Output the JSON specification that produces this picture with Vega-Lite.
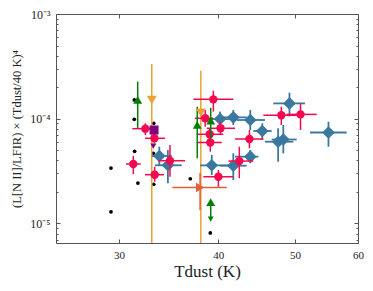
{
  "$schema": "https://vega.github.io/schema/vega-lite/v6.json",
  "width": 302,
  "height": 229,
  "autosize": {"type": "none"},
  "padding": {"left": 56, "top": 14, "right": 15, "bottom": 48},
  "background": "white",
  "config": {
    "view": {"stroke": "#555", "strokeWidth": 1},
    "font": "Liberation Serif",
    "axis": {"grid": false, "domain": false, "labelFont": "Liberation Serif", "titleFont": "Liberation Serif", "titleFontWeight": "normal", "labelColor": "#222", "titleColor": "#222", "tickColor": "#555", "tickWidth": 1, "labelFlush": false, "labelOverlap": false}
  },
  "datasets": {
    "black": [
      {"T": 29.32, "V": 1.29e-5}, {"T": 29.32, "V": 3.38e-5}, {"T": 31.37, "V": 1.51e-4}, {"T": 31.37, "V": 9.87e-5},
      {"T": 31.4, "V": 4.88e-5}, {"T": 31.7, "V": 2.43e-5}, {"T": 33.19, "V": 9.04e-5}, {"T": 33.19, "V": 2.36e-5},
      {"T": 33.15, "V": 4.67e-5}, {"T": 36.9, "V": 2.67e-5}, {"T": 39.1, "V": 8.1e-6}
    ],
    "red": [
      {"T": 31.28, "V": 3.69e-5, "Tlo": 30.62, "Thi": 31.96, "Vlo": 2.96e-5, "Vhi": 4.40e-5},
      {"T": 32.39, "V": 8.03e-5, "Tlo": 31.19, "Thi": 33.15, "Vlo": 6.99e-5, "Vhi": 9.04e-5},
      {"T": 33.25, "V": 6.50e-5, "Tlo": 32.36, "Thi": 34.29, "Vlo": 5.82e-5, "Vhi": 7.25e-5},
      {"T": 33.28, "V": 2.92e-5, "Tlo": 32.36, "Thi": 34.19, "Vlo": 2.50e-5, "Vhi": 3.48e-5},
      {"T": 34.79, "V": 3.97e-5, "Tlo": 33.63, "Thi": 36.34, "Vlo": 2.79e-5, "Vhi": 5.61e-5},
      {"T": 39.45, "V": 1.53e-4, "Tlo": 37.23, "Thi": 41.80, "Vlo": 1.17e-4, "Vhi": 1.85e-4},
      {"T": 38.53, "V": 1.01e-4, "Tlo": 37.41, "Thi": 39.42, "Vlo": 8.39e-5, "Vhi": 1.21e-4},
      {"T": 39.03, "V": 7.10e-5, "Tlo": 37.60, "Thi": 40.61, "Vlo": 6.26e-5, "Vhi": 8.15e-5},
      {"T": 39.10, "V": 5.93e-5, "Tlo": 37.60, "Thi": 40.42, "Vlo": 4.84e-5, "Vhi": 6.73e-5},
      {"T": 40.28, "V": 8.10e-5, "Tlo": 38.70, "Thi": 42.01, "Vlo": 6.99e-5, "Vhi": 9.36e-5},
      {"T": 40.03, "V": 2.79e-5, "Tlo": 38.32, "Thi": 41.80, "Vlo": 2.24e-5, "Vhi": 3.24e-5},
      {"T": 42.53, "V": 3.94e-5, "Tlo": 41.21, "Thi": 44.29, "Vlo": 2.70e-5, "Vhi": 5.40e-5},
      {"T": 43.80, "V": 6.40e-5, "Tlo": 42.01, "Thi": 45.60, "Vlo": 5.22e-5, "Vhi": 7.80e-5},
      {"T": 48.04, "V": 1.08e-4, "Tlo": 45.60, "Thi": 50.71, "Vlo": 8.71e-5, "Vhi": 1.30e-4},
      {"T": 50.79, "V": 1.10e-4, "Tlo": 48.79, "Thi": 53.23, "Vlo": 7.80e-5, "Vhi": 1.40e-4}
    ],
    "blue": [
      {"T": 33.73, "V": 4.40e-5, "Tlo": 33.00, "Thi": 34.97, "Vlo": 3.61e-5, "Vhi": 5.40e-5},
      {"T": 34.58, "V": 3.59e-5, "Tlo": 33.31, "Thi": 35.99, "Vlo": 2.42e-5, "Vhi": 5.02e-5},
      {"T": 39.27, "V": 3.59e-5, "Tlo": 37.96, "Thi": 41.65, "Vlo": 2.90e-5, "Vhi": 4.50e-5},
      {"T": 40.23, "V": 9.93e-5, "Tlo": 38.70, "Thi": 41.80, "Vlo": 8.10e-5, "Vhi": 1.17e-4},
      {"T": 41.80, "V": 1.03e-4, "Tlo": 40.03, "Thi": 43.45, "Vlo": 8.71e-5, "Vhi": 1.21e-4},
      {"T": 43.91, "V": 9.72e-5, "Tlo": 42.22, "Thi": 45.82, "Vlo": 7.80e-5, "Vhi": 1.21e-4},
      {"T": 45.46, "V": 7.63e-5, "Tlo": 44.29, "Thi": 46.72, "Vlo": 6.26e-5, "Vhi": 9.04e-5},
      {"T": 43.91, "V": 4.34e-5, "Tlo": 42.01, "Thi": 44.94, "Vlo": 3.75e-5, "Vhi": 5.02e-5},
      {"T": 41.80, "V": 3.56e-5, "Tlo": 40.23, "Thi": 43.45, "Vlo": 2.60e-5, "Vhi": 4.67e-5},
      {"T": 47.60, "V": 6.03e-5, "Tlo": 45.82, "Thi": 49.74, "Vlo": 3.88e-5, "Vhi": 8.10e-5},
      {"T": 48.32, "V": 6.33e-5, "Tlo": 46.72, "Thi": 50.23, "Vlo": 4.67e-5, "Vhi": 8.71e-5},
      {"T": 49.19, "V": 1.40e-4, "Tlo": 46.94, "Thi": 51.45, "Vlo": 1.05e-4, "Vhi": 1.77e-4},
      {"T": 55.08, "V": 7.38e-5, "Tlo": 52.21, "Thi": 58.06, "Vlo": 5.40e-5, "Vhi": 9.36e-5}
    ],
    "green": [
      {"T": 31.68, "V": 1.51e-4, "Vlo": 8.10e-5, "Vhi": 2.26e-4},
      {"T": 37.65, "V": 8.71e-5, "Vlo": 4.18e-5, "Vhi": 1.30e-4},
      {"T": 39.15, "V": 9.61e-5, "Vlo": 6.50e-5, "Vhi": 1.27e-4},
      {"T": 39.15, "V": 1.60e-5, "Vlo": 1.13e-5, "Vhi": 1.60e-5}
    ],
    "greenhead": [{"T": 39.15, "V": 1.10e-5}],
    "gold": [
      {"T": 33.00, "V": 1.51e-4, "Vlo": 6.5e-6, "Vhi": 3.33e-4},
      {"T": 38.04, "V": 1.14e-4, "Vlo": 6.5e-6, "Vhi": 2.87e-4}
    ],
    "orange": [{"T": 37.96, "V": 2.20e-5, "Tlo": 35.03, "Thi": 41.02, "Vlo": 1.34e-5, "Vhi": 3.03e-5}],
    "psq": [{"T": 33.22, "V": 7.80e-5}],
    "ptri": [{"T": 33.15, "V": 5.48e-5}]
  },
  "resolve": {"axis": {"x": "independent", "y": "independent"}},
  "layer": [
    {
      "data": {"name": "black"},
      "mark": {"type": "circle", "size": 14, "color": "black", "opacity": 1},
      "encoding": {
        "x": {"field": "T", "type": "quantitative", "scale": {"type": "log", "domain": [25, 60], "nice": false},
          "axis": {"orient": "bottom", "values": [30, 40, 50, 60], "format": "d", "ticks": false, "labelPadding": 6, "labelFontSize": 11, "title": "Tdust (K)", "titleFontSize": 17, "titlePadding": 3}},
        "y": {"field": "V", "type": "quantitative", "scale": {"type": "log", "domain": [6.5e-6, 1e-3], "nice": false},
          "axis": {"orient": "left", "values": [1e-5, 1e-4, 1e-3], "ticks": false, "labelPadding": 6, "labelFontSize": 12,
            "labelExpr": "datum.value < 5e-5 ? '10⁻⁵' : (datum.value < 5e-4 ? '10⁻⁴' : '10⁻³')",
            "title": "(L[N II]/LFIR) × (Tdust/40 K)⁴", "titleFontSize": 12.5, "titlePadding": 6}}
      }
    },
    {
      "data": {"name": "gold"},
      "mark": {"type": "rule", "color": "#e8a433", "strokeWidth": 1.5},
      "encoding": {
        "x": {"field": "T", "type": "quantitative", "scale": {"type": "log", "domain": [25, 60], "nice": false},
          "axis": {"orient": "bottom", "values": [30, 40, 50, 60], "tickSize": -4, "labels": false, "title": null}},
        "y": {"field": "Vhi", "type": "quantitative", "scale": {"type": "log", "domain": [6.5e-6, 1e-3], "nice": false},
          "axis": {"orient": "left", "values": [1e-5, 1e-4, 1e-3], "tickSize": -4, "labels": false, "title": null}},
        "y2": {"field": "Vlo"}
      }
    },
    {
      "data": {"name": "blue"},
      "mark": {"type": "rule", "color": "#3a78a0", "strokeWidth": 1.8},
      "encoding": {
        "x": {"field": "Tlo", "type": "quantitative", "scale": {"type": "log", "domain": [25, 60], "nice": false},
          "axis": {"orient": "top", "values": [30, 40, 50, 60], "tickSize": -4, "labels": false, "title": null}},
        "x2": {"field": "Thi"},
        "y": {"field": "V", "type": "quantitative", "scale": {"type": "log", "domain": [6.5e-6, 1e-3], "nice": false},
          "axis": {"orient": "left", "values": [7e-6, 8e-6, 9e-6, 2e-5, 3e-5, 4e-5, 5e-5, 6e-5, 7e-5, 8e-5, 9e-5, 2e-4, 3e-4, 4e-4, 5e-4, 6e-4, 7e-4, 8e-4, 9e-4], "tickSize": -2, "labels": false, "title": null}}
      }
    },
    {
      "data": {"name": "blue"},
      "mark": {"type": "rule", "color": "#3a78a0", "strokeWidth": 1.8},
      "encoding": {
        "x": {"field": "T", "type": "quantitative", "scale": {"type": "log", "domain": [25, 60], "nice": false}, "axis": null},
        "y": {"field": "Vlo", "type": "quantitative", "scale": {"type": "log", "domain": [6.5e-6, 1e-3], "nice": false},
          "axis": {"orient": "right", "values": [1e-5, 1e-4, 1e-3], "tickSize": -4, "labels": false, "title": null}},
        "y2": {"field": "Vhi"}
      }
    },
    {
      "data": {"name": "blue"},
      "mark": {"type": "point", "shape": "diamond", "filled": true, "size": 160, "color": "#3a78a0", "opacity": 1, "strokeWidth": 0},
      "encoding": {
        "x": {"field": "T", "type": "quantitative", "scale": {"type": "log", "domain": [25, 60], "nice": false}, "axis": null},
        "y": {"field": "V", "type": "quantitative", "scale": {"type": "log", "domain": [6.5e-6, 1e-3], "nice": false}, "axis": null}
      }
    },
    {
      "data": {"name": "red"},
      "mark": {"type": "rule", "color": "#f5084f", "strokeWidth": 1.5},
      "encoding": {
        "x": {"field": "Tlo", "type": "quantitative", "scale": {"type": "log", "domain": [25, 60], "nice": false}, "axis": null},
        "x2": {"field": "Thi"},
        "y": {"field": "V", "type": "quantitative", "scale": {"type": "log", "domain": [6.5e-6, 1e-3], "nice": false},
          "axis": {"orient": "right", "values": [7e-6, 8e-6, 9e-6, 2e-5, 3e-5, 4e-5, 5e-5, 6e-5, 7e-5, 8e-5, 9e-5, 2e-4, 3e-4, 4e-4, 5e-4, 6e-4, 7e-4, 8e-4, 9e-4], "tickSize": -2, "labels": false, "title": null}}
      }
    },
    {
      "data": {"name": "red"},
      "mark": {"type": "rule", "color": "#f5084f", "strokeWidth": 1.5},
      "encoding": {
        "x": {"field": "T", "type": "quantitative", "scale": {"type": "log", "domain": [25, 60], "nice": false}, "axis": null},
        "y": {"field": "Vlo", "type": "quantitative", "scale": {"type": "log", "domain": [6.5e-6, 1e-3], "nice": false}, "axis": null},
        "y2": {"field": "Vhi"}
      }
    },
    {
      "data": {"name": "red"},
      "mark": {"type": "circle", "size": 70, "color": "#f5084f", "opacity": 1},
      "encoding": {
        "x": {"field": "T", "type": "quantitative", "scale": {"type": "log", "domain": [25, 60], "nice": false}, "axis": null},
        "y": {"field": "V", "type": "quantitative", "scale": {"type": "log", "domain": [6.5e-6, 1e-3], "nice": false}, "axis": null}
      }
    },
    {
      "data": {"name": "green"},
      "mark": {"type": "rule", "color": "#008000", "strokeWidth": 1.5},
      "encoding": {
        "x": {"field": "T", "type": "quantitative", "scale": {"type": "log", "domain": [25, 60], "nice": false}, "axis": null},
        "y": {"field": "Vlo", "type": "quantitative", "scale": {"type": "log", "domain": [6.5e-6, 1e-3], "nice": false}, "axis": null},
        "y2": {"field": "Vhi"}
      }
    },
    {
      "data": {"name": "green"},
      "mark": {"type": "point", "shape": "triangle-up", "filled": true, "size": 80, "color": "#008000", "opacity": 1, "strokeWidth": 0},
      "encoding": {
        "x": {"field": "T", "type": "quantitative", "scale": {"type": "log", "domain": [25, 60], "nice": false}, "axis": null},
        "y": {"field": "V", "type": "quantitative", "scale": {"type": "log", "domain": [6.5e-6, 1e-3], "nice": false}, "axis": null}
      }
    },
    {
      "data": {"name": "greenhead"},
      "mark": {"type": "point", "shape": "triangle-down", "filled": true, "size": 35, "color": "#008000", "opacity": 1, "strokeWidth": 0},
      "encoding": {
        "x": {"field": "T", "type": "quantitative", "scale": {"type": "log", "domain": [25, 60], "nice": false}, "axis": null},
        "y": {"field": "V", "type": "quantitative", "scale": {"type": "log", "domain": [6.5e-6, 1e-3], "nice": false}, "axis": null}
      }
    },
    {
      "data": {"name": "gold"},
      "mark": {"type": "point", "shape": "triangle-down", "filled": true, "size": 100, "color": "#e8a433", "opacity": 1, "strokeWidth": 0},
      "encoding": {
        "x": {"field": "T", "type": "quantitative", "scale": {"type": "log", "domain": [25, 60], "nice": false}, "axis": null},
        "y": {"field": "V", "type": "quantitative", "scale": {"type": "log", "domain": [6.5e-6, 1e-3], "nice": false}, "axis": null}
      }
    },
    {
      "data": {"name": "orange"},
      "mark": {"type": "rule", "color": "#e0603a", "strokeWidth": 1.5},
      "encoding": {
        "x": {"field": "Tlo", "type": "quantitative", "scale": {"type": "log", "domain": [25, 60], "nice": false}, "axis": null},
        "x2": {"field": "Thi"},
        "y": {"field": "V", "type": "quantitative", "scale": {"type": "log", "domain": [6.5e-6, 1e-3], "nice": false}, "axis": null}
      }
    },
    {
      "data": {"name": "orange"},
      "mark": {"type": "rule", "color": "#e0603a", "strokeWidth": 1.5},
      "encoding": {
        "x": {"field": "T", "type": "quantitative", "scale": {"type": "log", "domain": [25, 60], "nice": false}, "axis": null},
        "y": {"field": "Vlo", "type": "quantitative", "scale": {"type": "log", "domain": [6.5e-6, 1e-3], "nice": false}, "axis": null},
        "y2": {"field": "Vhi"}
      }
    },
    {
      "data": {"name": "orange"},
      "mark": {"type": "point", "shape": "triangle-right", "filled": true, "size": 90, "color": "#e0603a", "opacity": 1, "strokeWidth": 0},
      "encoding": {
        "x": {"field": "T", "type": "quantitative", "scale": {"type": "log", "domain": [25, 60], "nice": false}, "axis": null},
        "y": {"field": "V", "type": "quantitative", "scale": {"type": "log", "domain": [6.5e-6, 1e-3], "nice": false}, "axis": null}
      }
    },
    {
      "data": {"name": "psq"},
      "mark": {"type": "point", "shape": "square", "filled": true, "size": 81, "color": "#800080", "opacity": 1, "strokeWidth": 0},
      "encoding": {
        "x": {"field": "T", "type": "quantitative", "scale": {"type": "log", "domain": [25, 60], "nice": false}, "axis": null},
        "y": {"field": "V", "type": "quantitative", "scale": {"type": "log", "domain": [6.5e-6, 1e-3], "nice": false}, "axis": null}
      }
    },
    {
      "data": {"name": "ptri"},
      "mark": {"type": "point", "shape": "triangle-down", "filled": true, "size": 36, "color": "#800080", "opacity": 1, "strokeWidth": 0},
      "encoding": {
        "x": {"field": "T", "type": "quantitative", "scale": {"type": "log", "domain": [25, 60], "nice": false}, "axis": null},
        "y": {"field": "V", "type": "quantitative", "scale": {"type": "log", "domain": [6.5e-6, 1e-3], "nice": false}, "axis": null}
      }
    }
  ]
}
